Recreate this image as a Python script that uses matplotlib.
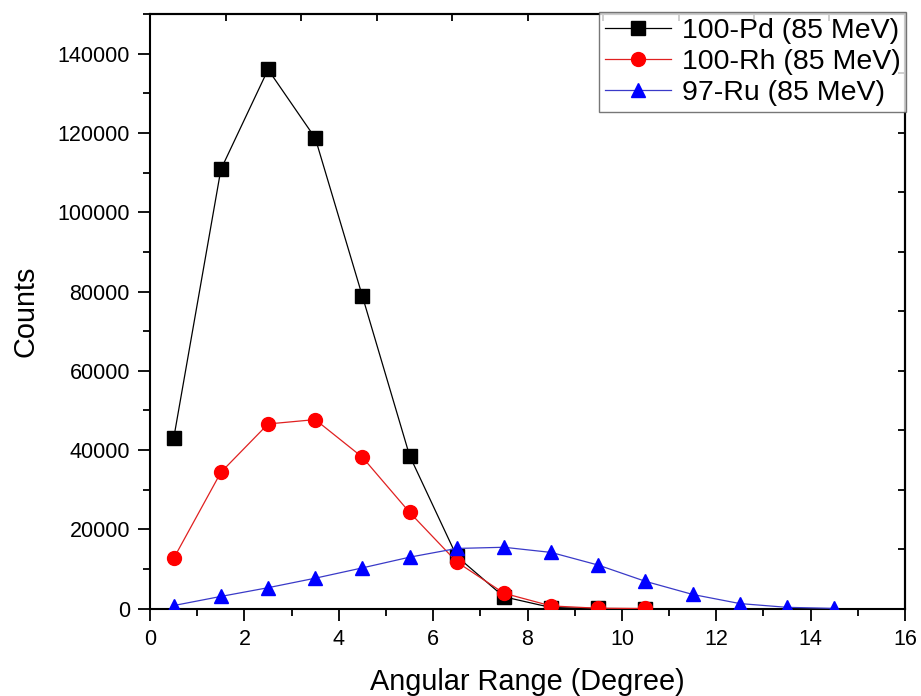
import matplotlib
matplotlib.use("Agg")
import matplotlib.pyplot as plt
from matplotlib.ticker import MultipleLocator

plt.rcParams['font.family'] = ['Liberation Sans', 'DejaVu Sans']

angle = [0.5, 1.5, 2.5, 3.5, 4.5, 5.5, 6.5, 7.5, 8.5, 9.5, 10.5, 11.5, 12.5, 13.5, 14.5]
pd_x = angle[:11]
pd_counts = [43000, 110800, 136000, 118700, 78800, 38600, 13200, 3000, 300, 60, 10]
rh_x = angle[:11]
rh_counts = [12700, 34400, 46600, 47700, 38200, 24300, 11800, 3900, 700, 120, 60]
ru_x = angle
ru_counts = [800, 3100, 5300, 7700, 10300, 13000, 15200, 15500, 14200, 11000, 6900, 3600, 1300, 350, 80]

labels = ["100-Pd (85 MeV)", "100-Rh (85 MeV)", "97-Ru (85 MeV)"]

fig = plt.figure(figsize=(9.21, 6.96), dpi=100)
ax = fig.add_axes([0.163, 0.1254, 0.8196, 0.8545])

ax.plot(pd_x, pd_counts, color='black', lw=0.9, marker='s', ms=9.5, mfc='black', mec='black', label=labels[0], zorder=3)
ax.plot(rh_x, rh_counts, color='#e02020', lw=0.9, marker='o', ms=10, mfc='red', mec='red', label=labels[1], zorder=4)
ax.plot(ru_x, ru_counts, color='#3a3ac8', lw=0.9, marker='^', ms=10.5, mfc='blue', mec='blue', label=labels[2], zorder=5)

ax.set_xlim(0, 16)
ax.set_ylim(0, 150000)
ax.xaxis.set_major_locator(MultipleLocator(2))
ax.xaxis.set_minor_locator(MultipleLocator(1))
ax.yaxis.set_major_locator(MultipleLocator(20000))
ax.yaxis.set_minor_locator(MultipleLocator(10000))

ax.tick_params(which='major', direction='out', length=8.5, width=1.3, labelsize=15.5, pad=6)
ax.tick_params(which='minor', direction='out', length=5, width=1.3)
for s in ax.spines.values():
    s.set_linewidth(1.5)

secx = ax.secondary_xaxis('top')
secx.set_xticks([1.6 * i for i in range(11)])
secx.tick_params(direction='in', length=5, width=1.3, labeltop=False)
secx.xaxis.set_minor_locator(plt.NullLocator())
secy = ax.secondary_yaxis('right')
secy.set_yticks([15000 * i for i in range(11)])
secy.tick_params(direction='in', length=5, width=1.3, labelright=False)
secy.yaxis.set_minor_locator(plt.NullLocator())
for sa in (secx, secy):
    for s in sa.spines.values():
        s.set_linewidth(1.5)

ax.set_xlabel("Angular Range (Degree)", fontsize=20.8, labelpad=13)
ax.set_ylabel("Counts", fontsize=20.8, labelpad=13)

leg = ax.legend(loc='upper right', bbox_to_anchor=(1.002, 1.003), borderaxespad=0,
                fontsize=20.5, frameon=True, fancybox=False, edgecolor='#555555',
                handlelength=2.3, handletextpad=0.4, labelspacing=0.18, borderpad=0.2)
leg.get_frame().set_linewidth(1.0)
leg.set_zorder(10)

fig.savefig("out.png", dpi=100)
